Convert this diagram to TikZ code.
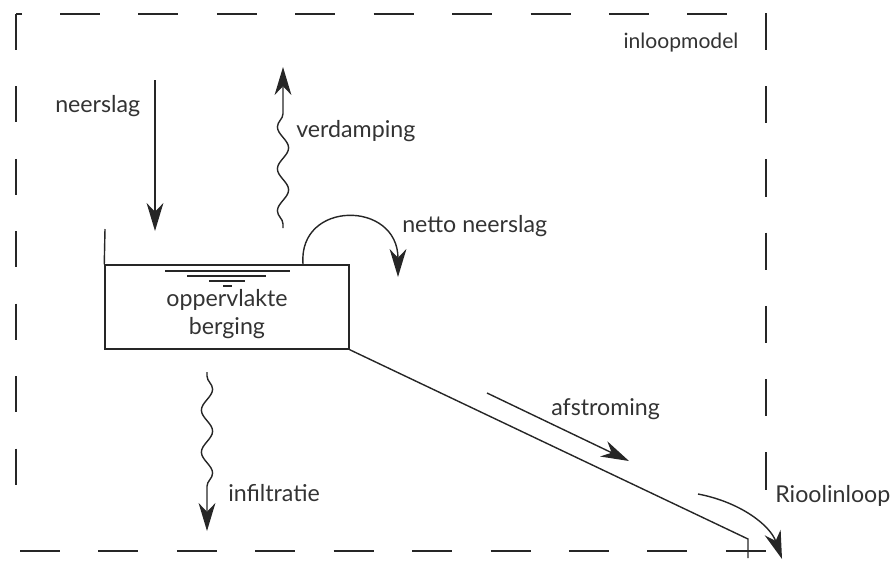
\documentclass[tikz,border=0pt]{standalone}
\usepackage{fontspec}
\setmainfont{Lato}
\usetikzlibrary{arrows.meta,decorations.pathmorphing}

\begin{document}
\begin{tikzpicture}[x=0.025cm, y=-0.025cm,
  line/.style={draw=black!85, line width=1pt},
  flow/.style={line, -{Stealth[length=7mm, width=4.2mm, inset=2.2mm]}},
  wavy/.style={flow, decorate, decoration={snake, amplitude=1.4mm, segment length=10.5mm, pre length=1mm, post length=6.5mm}},
  frame/.style={draw=black!85, line width=1.6pt},
  lbl/.style={text=black!80, font=\fontsize{16.5}{19}\selectfont, inner sep=0pt},
  store/.style={line, minimum width=6.1cm, minimum height=2.1cm, inner sep=0pt}]

\useasboundingbox (0,0) rectangle (892,561);

% Frame of the model
\draw[frame] (22,14) -- (16,14);
\draw[frame, dash pattern=on 0.9cm off 0.91cm] (16,14) -- (16,486);
\draw[frame, dash pattern=on 1cm off 0.96cm] (60,14) -- (732,14);
\draw[frame, dash pattern=on 0.93cm off 0.9cm] (766,13) -- (766,490);
\draw[frame, dash pattern=on 1cm off 0.96cm] (20,551) -- (766,551);

% Storage
\node[store] (berg) at (227,307) {};
\node[lbl, align=center, font=\fontsize{16.5}{20}\selectfont] (bergText) at (227,314) {oppervlakte\\berging};
\coordinate (wall) at (105,229);
\draw[line] (berg.north west) -- (wall);

% Water level
\draw[line] (165,271) -- (290,271);
\draw[line] (187,276) -- (266,276);
\draw[line] (209,281) -- (245,281);
\draw[line] (223,286) -- (232,286);

% Outflow pipe
\coordinate (pipeEnd) at (748,539);
\coordinate (pipeFoot) at (748,558);
\draw[line] (berg.south east) -- (pipeEnd) -- (pipeFoot);

% Labels
\node[lbl, font=\fontsize{15}{18}\selectfont] (inloop) at (681,43) {inloopmodel};
\node[lbl, anchor=west] (neer) at (55,106) {neerslag};
\node[lbl, anchor=west] (verd) at (296,131) {verdamping};
\node[lbl, anchor=west] (netto) at (402,226) {netto neerslag};
\node[lbl, anchor=west] (afst) at (551,409) {afstroming};
\node[lbl, anchor=west] (infil) at (228,493) {infiltratie};
\node[lbl, anchor=west] (riool) at (775,496) {Rioolinloop};

% Arrows
\coordinate (neerA) at (155,80);
\coordinate (neerB) at (155,231);
\draw[flow] (neerA) -- (neerB);

\coordinate (verdA) at (283,228);
\coordinate (verdB) at (283,67);
\draw[wavy] (verdA) -- (verdB);

\coordinate (nettoA) at (303,264);
\coordinate (nettoB) at (398,277);
\draw[flow] (nettoA) .. controls (298,200) and (398,200) .. (nettoB);

\coordinate (afstA) at (487,393);
\coordinate (afstB) at (629,461);
\draw[flow] (afstA) -- (afstB);

\coordinate (infilA) at (207,372);
\coordinate (infilB) at (207,531);
\draw[wavy] (infilA) -- (infilB);

\coordinate (rioolA) at (698,494);
\coordinate (rioolB) at (782,559);
\draw[flow] (rioolA) .. controls (740,502) and (770,525) .. (rioolB);

\end{tikzpicture}
\end{document}
